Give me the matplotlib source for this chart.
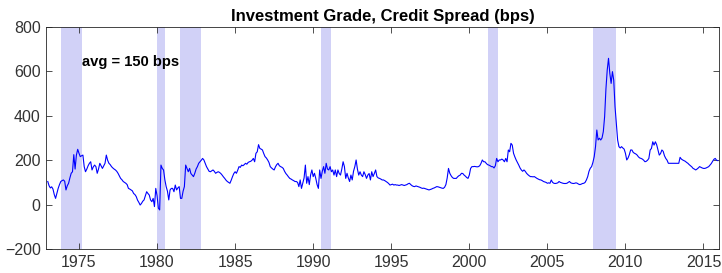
import numpy as np
import matplotlib.pyplot as plt

plt.rcParams['font.family'] = ['Liberation Sans', 'DejaVu Sans']

# Monthly investment grade credit spread (bps), Jan 1973 - Dec 2015
start_year = 1973
spread = [
    104, 85, 75, 80, 70, 45, 28, 50, 73, 90, 104, 108,        # 1973
    111, 105, 66, 85, 96, 120, 141, 148, 225, 160, 223, 249,  # 1974
    231, 216, 220, 223, 171, 148, 160, 175, 186, 193, 156, 170,  # 1975
    178, 171, 141, 160, 186, 175, 163, 175, 186, 223, 200, 186,  # 1976
    180, 171, 165, 160, 156, 150, 141, 130, 118, 112, 104, 100,  # 1977
    96, 90, 73, 70, 66, 62, 50, 45, 36, 20, 10, -2,           # 1978
    5, 15, 21, 40, 58, 50, 43, 21, 13, 28, -9, 73,            # 1979
    40, -16, -24, 178, 163, 156, 111, 81, 60, 21, 66, 73,     # 1980
    73, 58, 88, 66, 75, 81, 28, 28, 60, 81, 178, 163,         # 1981
    148, 163, 140, 133, 126, 141, 160, 171, 186, 193, 200, 208,  # 1982
    201, 186, 171, 160, 150, 148, 152, 156, 150, 141, 145, 148,  # 1983
    145, 140, 133, 125, 118, 110, 104, 100, 96, 110, 126, 140,   # 1984
    148, 141, 155, 171, 168, 178, 175, 180, 186, 182, 190, 193,  # 1985
    195, 200, 208, 193, 231, 238, 270, 253, 250, 246, 230, 216,  # 1986
    210, 201, 190, 171, 165, 160, 156, 170, 180, 186, 175, 171,  # 1987
    168, 163, 150, 140, 133, 125, 118, 115, 111, 108, 104, 104,  # 1988
    100, 81, 111, 73, 96, 120, 178, 96, 126, 90, 133, 156,       # 1989
    126, 141, 118, 90, 73, 156, 118, 150, 171, 141, 186, 160,    # 1990
    156, 171, 148, 156, 133, 156, 126, 156, 140, 133, 160, 193,  # 1991
    171, 118, 141, 120, 104, 133, 111, 150, 171, 201, 160, 133,  # 1992
    148, 133, 126, 148, 135, 118, 133, 140, 111, 148, 126, 140,  # 1993
    156, 126, 120, 118, 115, 111, 111, 108, 104, 100, 95, 88,    # 1994
    90, 92, 88, 90, 88, 88, 86, 88, 90, 88, 86, 88,              # 1995
    90, 94, 96, 90, 85, 82, 81, 84, 82, 80, 78, 75,              # 1996
    73, 74, 72, 70, 68, 66, 68, 70, 73, 75, 78, 81,              # 1997
    80, 78, 76, 74, 73, 78, 90, 120, 163, 141, 130, 122,         # 1998
    118, 118, 118, 125, 130, 133, 141, 140, 133, 128, 122, 118,  # 1999
    133, 163, 171, 171, 172, 171, 170, 171, 175, 186, 201, 193,  # 2000
    193, 186, 180, 178, 175, 171, 171, 165, 175, 208, 193, 201,  # 2001
    201, 205, 201, 193, 208, 193, 246, 238, 276, 268, 231, 215,  # 2002
    201, 190, 178, 165, 156, 150, 156, 150, 141, 135, 130, 126,  # 2003
    126, 125, 126, 122, 118, 115, 112, 111, 108, 104, 102, 100,  # 2004
    96, 98, 96, 111, 100, 96, 95, 96, 98, 104, 100, 98,          # 2005
    96, 95, 95, 96, 100, 104, 98, 96, 95, 96, 98, 96,            # 2006
    92, 90, 92, 95, 96, 100, 111, 126, 150, 164, 171, 190,       # 2007
    216, 261, 336, 291, 299, 291, 300, 329, 396, 520, 606, 659,  # 2008
    591, 546, 599, 561, 441, 366, 291, 261, 255, 261, 255, 250,  # 2009
    231, 201, 210, 225, 246, 246, 235, 231, 228, 223, 215, 210,  # 2010
    208, 205, 200, 193, 195, 200, 208, 246, 253, 283, 268, 283,  # 2011
    270, 246, 223, 230, 246, 240, 220, 208, 200, 186, 186, 186,  # 2012
    186, 186, 186, 186, 186, 186, 213, 205, 201, 198, 195, 190,  # 2013
    186, 180, 175, 170, 163, 160, 156, 160, 165, 171, 168, 165,  # 2014
    163, 163, 165, 168, 171, 178, 185, 195, 204, 208, 200, 198,  # 2015
]

# NBER recessions (start, end) in fractional years
rec_start = [1973.83, 1980.0, 1981.5, 1990.5, 2001.17, 2007.92]
rec_end = [1975.17, 1980.5, 1982.83, 1991.17, 2001.83, 2009.42]

dates = start_year + np.arange(len(spread)) / 12.0

fig = plt.figure(figsize=(7.22, 2.73), dpi=100)
ax = fig.add_axes([0.064, 0.088, 0.932, 0.813])

for s, e in zip(rec_start, rec_end):
    ax.axvspan(s, e, color=(0.82, 0.82, 0.97), lw=0, zorder=0)

ax.plot(dates, spread, color='blue', lw=0.8, zorder=2)

ax.set_xlim(1972.9, 2016.0)
ax.set_ylim(-200, 800)
ax.set_xticks(np.arange(1975, 2016, 5))
ax.set_yticks(np.arange(-200, 801, 200))

ax.tick_params(direction='in', top=True, right=True, length=4, width=0.6,
               labelsize=11.5, colors=(0.2, 0.2, 0.2), pad=4)
for sp in ax.spines.values():
    sp.set_color((0.15, 0.15, 0.15))
    sp.set_linewidth(0.6)

ax.set_title("Investment Grade, Credit Spread (bps)", fontsize=12,
             fontweight='bold', pad=4)
ax.text(1975.2, 644, "avg = 150 bps", fontsize=10.6, fontweight='bold',
        va='center', ha='left')

fig.savefig("out.png", dpi=100)
